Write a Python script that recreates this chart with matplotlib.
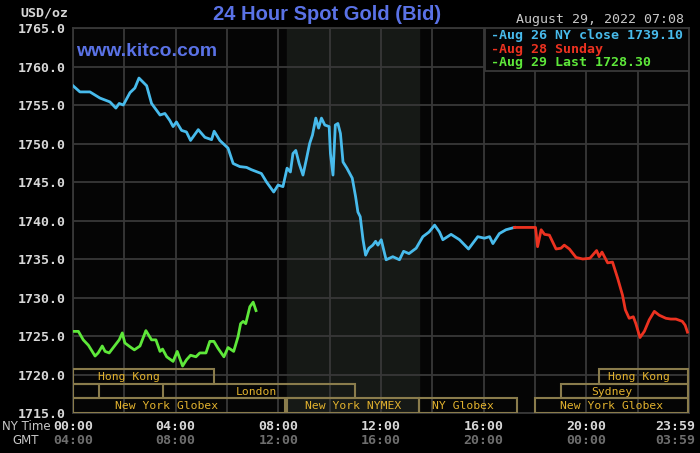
import matplotlib
matplotlib.use("Agg")
import matplotlib.pyplot as plt
from matplotlib.patches import Rectangle
import matplotlib.transforms as mtransforms

# ---------------- data (hours NY time, USD/oz) ----------------
blue_h = [0.0, 0.27, 0.66, 1.05, 1.44, 1.67, 1.8, 1.96, 2.22, 2.41, 2.57, 2.87, 3.06, 3.39,
          3.58, 3.77, 3.9, 4.03, 4.23, 4.42, 4.58, 4.88, 5.14, 5.4, 5.5, 5.72, 6.04, 6.24,
          6.5, 6.76, 6.95, 7.34, 7.54, 7.82, 7.99, 8.18, 8.34, 8.47, 8.57, 8.68, 8.81, 8.96,
          9.09, 9.22, 9.33, 9.46, 9.57, 9.68, 9.81, 9.98, 10.03, 10.13, 10.22, 10.32, 10.42,
          10.52, 10.67, 10.88, 11.01, 11.1, 11.19, 11.3, 11.4, 11.53, 11.68, 11.79, 11.88,
          12.01, 12.14, 12.2, 12.46, 12.72, 12.88, 13.09, 13.37, 13.63, 13.87, 14.09, 14.28,
          14.41, 14.73, 15.06, 15.41, 15.77, 16.03, 16.23, 16.36, 16.61, 16.87, 17.2]
blue_v = [1757.5, 1756.7, 1756.7, 1755.9, 1755.4, 1754.6, 1755.2, 1755.0, 1756.6, 1757.2,
          1758.5, 1757.5, 1755.2, 1753.7, 1753.9, 1753.0, 1752.2, 1752.8, 1751.7, 1751.5,
          1750.4, 1751.8, 1750.8, 1750.5, 1751.6, 1750.4, 1749.4, 1747.4, 1747.0, 1746.9,
          1746.6, 1746.1, 1745.0, 1743.7, 1744.6, 1744.4, 1746.8, 1746.3, 1748.7, 1749.1,
          1747.4, 1745.9, 1747.9, 1750.0, 1751.1, 1753.3, 1752.0, 1753.3, 1752.4, 1752.2,
          1748.7, 1745.9, 1752.4, 1752.6, 1751.3, 1747.6, 1746.8, 1745.5, 1743.1, 1741.1,
          1740.5, 1737.5, 1735.5, 1736.4, 1736.8, 1737.3, 1736.8, 1737.5, 1735.7, 1734.9,
          1735.3, 1734.9, 1736.0, 1735.7, 1736.4, 1737.9, 1738.5, 1739.4, 1738.5, 1737.5,
          1738.2, 1737.5, 1736.3, 1737.9, 1737.7, 1737.9, 1737.0, 1738.3, 1738.8, 1739.1]

red_h = [17.2, 18.02, 18.1, 18.24, 18.37, 18.56, 18.82, 19.01, 19.14, 19.34, 19.6, 19.86,
         20.14, 20.4, 20.5, 20.61, 20.83, 21.02, 21.22, 21.41, 21.52, 21.67, 21.83, 21.93,
         22.09, 22.26, 22.45, 22.65, 22.84, 23.1, 23.29, 23.49, 23.74, 23.85, 23.94]
red_v = [1739.1, 1739.1, 1736.6, 1738.8, 1738.2, 1738.1, 1736.3, 1736.4, 1736.8, 1736.3,
         1735.2, 1735.0, 1735.1, 1736.1, 1735.3, 1735.9, 1734.5, 1734.6, 1732.5, 1730.3,
         1728.4, 1727.3, 1727.5, 1726.6, 1724.8, 1725.6, 1727.1, 1728.2, 1727.7, 1727.3,
         1727.2, 1727.2, 1726.9, 1726.4, 1725.5]

green_h = [0.0, 0.21, 0.4, 0.6, 0.86, 0.98, 1.14, 1.25, 1.41, 1.57, 1.8, 1.92, 2.02, 2.22,
           2.39, 2.61, 2.84, 3.06, 3.23, 3.39, 3.49, 3.65, 3.9, 4.06, 4.27, 4.42, 4.58, 4.79,
           4.94, 5.18, 5.33, 5.49, 5.65, 5.88, 6.04, 6.26, 6.43, 6.53, 6.63, 6.73, 6.89,
           7.02, 7.13]
green_v = [1725.6, 1725.6, 1724.5, 1723.8, 1722.4, 1722.8, 1723.7, 1723.0, 1722.8, 1723.5,
           1724.5, 1725.4, 1724.1, 1723.6, 1723.2, 1723.7, 1725.7, 1724.5, 1724.5, 1723.0,
           1723.3, 1722.3, 1721.7, 1723.0, 1721.1, 1721.9, 1722.5, 1722.3, 1722.8, 1722.8,
           1724.3, 1724.3, 1723.4, 1722.3, 1723.5, 1723.0, 1724.9, 1726.6, 1726.9, 1726.6,
           1728.8, 1729.4, 1728.3]

legend_labels = ["-Aug 26 NY close 1739.10", "-Aug 28 Sunday", "-Aug 29 Last 1728.30"]
yticks = [1715, 1720, 1725, 1730, 1735, 1740, 1745, 1750, 1755, 1760, 1765]
ny_ticks = [0, 4, 8, 12, 16, 20]
ny_labels = ["00:00", "04:00", "08:00", "12:00", "16:00", "20:00"]
gmt_labels = ["04:00", "08:00", "12:00", "16:00", "20:00", "00:00"]
end_ny, end_gmt = "23:59", "03:59"

# sessions: (row, start, end, label, label_center)
sess_row = [0, 0, 1, 1, 1, 2, 2, 2, 2]
sess_start = [0.0, 20.5, 0.0, 3.5, 19.0, 0.0, 8.33, 13.5, 18.0]
sess_end = [5.5, 23.95, 1.0, 11.0, 23.95, 8.25, 13.47, 17.3, 23.95]
sess_label = ["Hong Kong", "Hong Kong", "", "London", "Sydney", "New York Globex",
              "New York NYMEX", "NY Globex", "New York Globex"]
sess_lab_x = [2.16, 22.05, 0.5, 7.15, 21.0, 3.66, 10.9, 15.2, 21.0]
nymex_start, nymex_end = 8.33, 13.5

# ---------------- styling ----------------
W, H = 700, 453
fig = plt.figure(figsize=(W / 100, H / 100), dpi=100, facecolor="black")
L, R, T, B = 73, 689, 28, 413
ax = fig.add_axes([L / W, (H - B) / H, (R - L) / W, (B - T) / H])
ax.set_facecolor("#050505")
ax.set_xlim(0, 24)
ax.set_ylim(1715, 1765)

grid_c = "#383838"
for s in ax.spines.values():
    s.set_color(grid_c)
    s.set_linewidth(1.3)

ax.axvspan(nymex_start, nymex_end, color="#161916", zorder=0)
for h in range(0, 25, 2):
    ax.axvline(h, color=grid_c, lw=1.3, zorder=1)
for v in yticks:
    ax.axhline(v, color=grid_c, lw=1.3, zorder=1)

ax.set_xticks([])
ax.set_yticks(yticks)
mono = "DejaVu Sans Mono"
ax.set_yticklabels([f"{v:.1f}" for v in yticks], fontfamily=mono, fontweight="bold",
                   fontsize=9.5, color="#d8d8d8")
ax.tick_params(axis="y", length=0, pad=5)

# session boxes
trans = mtransforms.blended_transform_factory(ax.transData, ax.transAxes)
row_h = 14.5 / (B - T)
box_c = "#8a7c4c"
for r, s, e, lab, lx in zip(sess_row, sess_start, sess_end, sess_label, sess_lab_x):
    y0 = (2 - r) * row_h + 0.001
    ax.add_patch(Rectangle((s, y0), e - s, row_h, transform=trans, fill=False,
                           edgecolor=box_c, lw=1.5, zorder=3))
    if lab:
        ax.text(lx, y0 + row_h / 2 - 0.002, lab, transform=trans, ha="center",
                va="center", fontfamily=mono, fontsize=8.2, color="#e2b22e", zorder=4)

# price lines
ax.plot(blue_h, blue_v, color="#48bbec", lw=2.0, zorder=5)
ax.plot(red_h, red_v, color="#ec3220", lw=2.0, zorder=5)
ax.plot(green_h, green_v, color="#5ee83a", lw=2.0, zorder=5)

# legend box
lx0 = (485 - L) / (R - L)
ly0 = (B - 71) / (B - T)
ax.add_patch(Rectangle((lx0, ly0), 1 - lx0, 1 - ly0, transform=ax.transAxes,
                       facecolor="#050505", edgecolor=grid_c, lw=1.3, zorder=6))
leg_cols = ["#48bbec", "#ec3220", "#5ee83a"]
for i, (lab, c) in enumerate(zip(legend_labels, leg_cols)):
    fig.text(491 / W, 1 - (35.5 + 13.7 * i) / H, lab, ha="left", va="center",
             fontfamily=mono, fontweight="bold", fontsize=9.5, color=c)

# titles
blue_t = "#5a72e6"
fig.text(327 / W, 1 - 15 / H, "24 Hour Spot Gold (Bid)", ha="center", va="center",
         fontfamily="Liberation Sans", fontweight="bold", fontsize=14.5, color=blue_t)
fig.text(76 / W, 1 - 52 / H, "www.kitco.com", ha="left", va="center",
         fontfamily="Liberation Sans", fontweight="bold", fontsize=14, color=blue_t,
         zorder=7)
fig.text(684 / W, 1 - 20 / H, "August 29, 2022 07:08", ha="right", va="center",
         fontfamily=mono, fontsize=9.5, color="#c8c8c8")
fig.text(68 / W, 1 - 13 / H, "USD/oz", ha="right", va="center",
         fontfamily=mono, fontweight="bold", fontsize=9.5, color="#d8d8d8")

# time axis labels
for h, a, g in zip(ny_ticks, ny_labels, gmt_labels):
    xp = (L + h * (R - L) / 24) / W
    fig.text(xp, 1 - 426 / H, a, ha="center", va="center", fontfamily=mono,
             fontweight="bold", fontsize=9.5, color="#d8d8d8")
    fig.text(xp, 1 - 441 / H, g, ha="center", va="center", fontfamily=mono,
             fontweight="bold", fontsize=9.5, color="#6e6e6e")
fig.text(695 / W, 1 - 426 / H, end_ny, ha="right", va="center", fontfamily=mono,
         fontweight="bold", fontsize=9.5, color="#d8d8d8")
fig.text(695 / W, 1 - 441 / H, end_gmt, ha="right", va="center", fontfamily=mono,
         fontweight="bold", fontsize=9.5, color="#6e6e6e")
fig.text(2 / W, 1 - 426 / H, "NY Time", ha="left", va="center",
         fontfamily="DejaVu Sans", fontsize=8.5, color="#c8c8c8")
fig.text(12 / W, 1 - 441 / H, "GMT", ha="left", va="center",
         fontfamily="DejaVu Sans", fontsize=8.5, color="#c8c8c8")

fig.savefig("out.png", dpi=100, facecolor="black")
